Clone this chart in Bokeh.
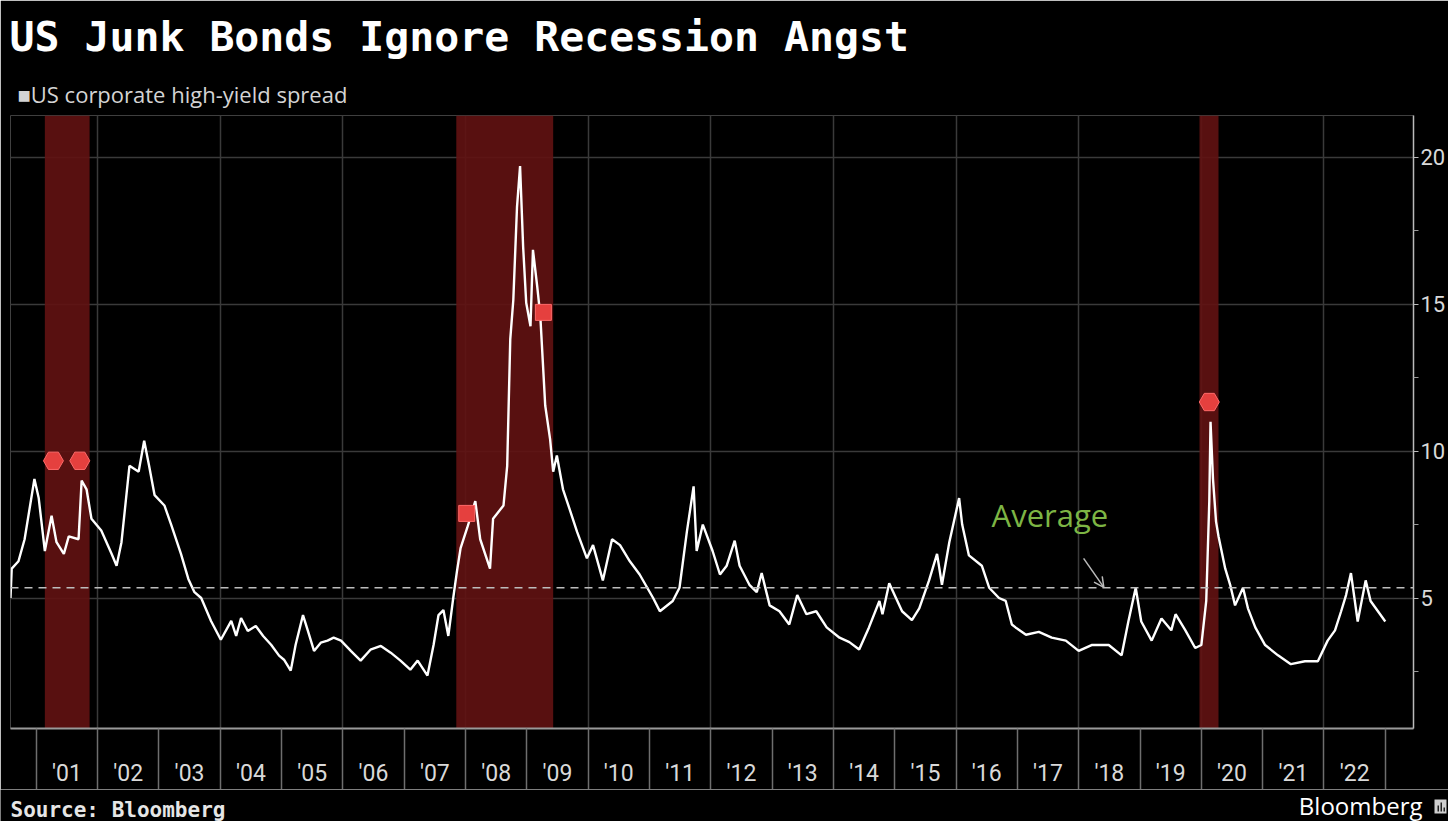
from bokeh.plotting import figure
from bokeh.layouts import column
from bokeh.models import FixedTicker, Span, Label, Arrow, OpenHead, Range1d, Title
from bokeh.core.properties import value
from bokeh.embed import file_html
from bokeh.resources import INLINE

TITLE = "US Junk Bonds Ignore Recession Angst"
SERIES_NAME = "US corporate high-yield spread"
SOURCE = "Source: Bloomberg"
BRAND = "Bloomberg"
AVG_TEXT = "Average"

# decimal year of each reading
years = [2000.58, 2000.60, 2000.71, 2000.81, 2000.97, 2001.04, 2001.14, 2001.25, 2001.33, 2001.45,
         2001.53, 2001.69, 2001.74, 2001.82, 2001.90, 2002.06, 2002.23, 2002.31, 2002.39, 2002.52,
         2002.67, 2002.76, 2002.84, 2002.93, 2003.09, 2003.20, 2003.36,
         2003.48, 2003.58, 2003.69, 2003.85, 2004.01, 2004.18, 2004.26, 2004.34, 2004.45, 2004.58,
         2004.70, 2004.83, 2004.96, 2005.04, 2005.15, 2005.23, 2005.35, 2005.43, 2005.53, 2005.64,
         2005.75, 2005.85, 2005.97, 2006.13, 2006.29, 2006.45, 2006.62, 2006.78, 2006.94, 2007.10,
         2007.22, 2007.38, 2007.48, 2007.56, 2007.64, 2007.72, 2007.80, 2007.86,
         2007.92, 2008.03, 2008.16, 2008.24,
         2008.40, 2008.45, 2008.62, 2008.68, 2008.73, 2008.78, 2008.84, 2008.89, 2008.94, 2008.99,
         2009.06, 2009.10, 2009.17, 2009.22, 2009.30, 2009.38, 2009.43, 2009.49, 2009.59, 2009.71,
         2009.82, 2009.98, 2010.08, 2010.24, 2010.39, 2010.52, 2010.68, 2010.84, 2011.06, 2011.17,
         2011.38, 2011.49, 2011.61, 2011.72, 2011.77, 2011.87, 2012.03, 2012.15, 2012.26, 2012.39,
         2012.47, 2012.63, 2012.75, 2012.83, 2012.96, 2013.12, 2013.28, 2013.41, 2013.56, 2013.72,
         2013.89, 2014.10, 2014.26, 2014.42, 2014.58, 2014.75, 2014.80, 2014.91, 2015.02, 2015.12,
         2015.28, 2015.40, 2015.56, 2015.69, 2015.77, 2015.89, 2016.05, 2016.10, 2016.21, 2016.42,
         2016.54, 2016.70, 2016.81, 2016.91, 2016.97, 2017.14, 2017.35, 2017.56, 2017.79, 2018.00,
         2018.21, 2018.49, 2018.70, 2018.81, 2018.93, 2019.02, 2019.19, 2019.35, 2019.51, 2019.58,
         2019.74, 2019.90, 2020.00, 2020.08, 2020.13, 2020.15, 2020.19, 2020.24, 2020.28, 2020.39,
         2020.47, 2020.55, 2020.68, 2020.76, 2020.88, 2021.04, 2021.25, 2021.46, 2021.69, 2021.90,
         2022.06, 2022.18, 2022.28, 2022.36, 2022.44, 2022.55, 2022.68, 2022.76, 2022.88, 2023.00]

# high-yield spread, percentage points
spread = [5.0, 6.0, 6.25, 7.0, 9.05, 8.4, 6.6, 7.8, 6.9, 6.5,
          7.1, 7.0, 9.0, 8.7, 7.7, 7.3, 6.5, 6.1, 6.9, 9.5,
          9.3, 10.35, 9.5, 8.5, 8.15, 7.5, 6.5,
          5.65, 5.2, 5.0, 4.22, 3.58, 4.22, 3.71, 4.32, 3.88, 4.05,
          3.71, 3.41, 3.04, 2.9, 2.53, 3.41, 4.42, 3.88, 3.2, 3.48,
          3.55, 3.65, 3.55, 3.2, 2.87, 3.24, 3.37, 3.14, 2.87, 2.56,
          2.87, 2.36, 3.41, 4.42, 4.59, 3.71, 5.0, 5.9,
          6.7, 7.4, 8.3, 7.0,
          6.0, 7.7, 8.15, 9.5, 13.8, 15.15, 18.3, 19.7, 16.95, 15.05,
          14.25, 16.85, 15.6, 14.6, 11.55, 10.4, 9.3, 9.85, 8.7, 7.95,
          7.25, 6.35, 6.8, 5.6, 7.0, 6.8, 6.25, 5.8, 5.0, 4.55,
          4.9, 5.35, 7.25, 8.8, 6.6, 7.5, 6.6, 5.8, 6.1, 6.95,
          6.1, 5.45, 5.2, 5.85, 4.75, 4.55, 4.1, 5.1, 4.45, 4.55,
          4.0, 3.65, 3.5, 3.25, 4.0, 4.9, 4.45, 5.5, 5.0, 4.55,
          4.25, 4.65, 5.6, 6.5, 5.45, 6.9, 8.4, 7.5, 6.45, 6.1,
          5.35, 5.0, 4.9, 4.1, 4.0, 3.75, 3.85, 3.65, 3.55, 3.2,
          3.4, 3.4, 3.05, 4.2, 5.35, 4.2, 3.55, 4.3, 3.9, 4.45,
          3.9, 3.3, 3.4, 4.9, 8.3, 11.0, 9.05, 7.6, 7.1, 6.0,
          5.45, 4.75, 5.35, 4.65, 4.0, 3.4, 3.05, 2.75, 2.85, 2.85,
          3.55, 3.9, 4.55, 5.1, 5.85, 4.2, 5.6, 4.9, 4.55, 4.2]

average_spread = 5.35

year_bounds = list(range(2001, 2024))
year_label_pos = [y + 0.5 for y in range(2001, 2023)]
year_labels = ["'01", "'02", "'03", "'04", "'05", "'06", "'07", "'08", "'09", "'10", "'11",
               "'12", "'13", "'14", "'15", "'16", "'17", "'18", "'19", "'20", "'21", "'22"]
grid_years = list(range(2002, 2023, 2))
y_ticks = [5, 10, 15, 20]
y_minor_ticks = [2.5, 7.5, 12.5, 17.5]

recession_start = [2001.14, 2007.85, 2019.97]
recession_end = [2001.87, 2009.43, 2020.28]

hex_event_x = [2001.28, 2001.71, 2020.13]
hex_event_y = [9.67, 9.67, 11.67]
sq_event_x = [2008.02, 2009.27]
sq_event_y = [7.88, 14.72]

avg_label_x, avg_label_y = 2016.58, 7.12
arrow_x0, arrow_y0, arrow_x1, arrow_y1 = 2018.08, 6.35, 2018.41, 5.36

X0, X1 = 2000.58, 2023.46
Y0, Y1 = 0.56, 21.42
TICK_FONT = "Roboto"
W, H_MAIN, H_FOOT = 1448, 789, 32

p = figure(width=W, height=H_MAIN, x_range=Range1d(X0, X1), y_range=Range1d(Y0, Y1),
           y_axis_location="right", output_backend="svg", toolbar_location=None,
           background_fill_color="black", border_fill_color="black", outline_line_color=None,
           min_border_left=10, min_border_right=32, min_border_top=115, min_border_bottom=58)
p.frame_align = False

# header: p.title is outermost, added titles sit nearer the frame
p.title.text = TITLE
p.title.text_font = "DejaVu Sans Mono"
p.title.text_font_style = "bold"
p.title.text_font_size = "41.5px"
p.title.text_color = "white"
p.title.align = "left"
p.title.offset = -1
p.title.standoff = 19

p.add_layout(Title(text="\u25a0" + SERIES_NAME, text_font="Open Sans", text_font_style="normal",
                   text_font_size="22px", text_color="#d4d4d4", align="left",
                   offset=7, standoff=13), "above")

# recession shading
p.quad(left=recession_start, right=recession_end, bottom=Y0, top=Y1,
       fill_color="#621212", fill_alpha=0.9, line_color=None)

# grid
p.xgrid.ticker = FixedTicker(ticks=grid_years)
p.xgrid.grid_line_color = "#3a3a3a"
p.xgrid.grid_line_width = 1.5
p.ygrid.grid_line_color = "#3a3a3a"
p.ygrid.grid_line_width = 1.5

# x axis
xa = p.xaxis[0]
xa.ticker = FixedTicker(ticks=year_label_pos, minor_ticks=year_bounds)
xa.major_label_overrides = {k: v for k, v in zip(year_label_pos, year_labels)}
xa.major_tick_out = 0
xa.major_tick_in = 0
xa.minor_tick_in = 0
xa.minor_tick_out = 62
xa.minor_tick_line_color = "#6e6e6e"
xa.minor_tick_line_width = 1.5
xa.axis_line_color = "#9a9a9a"
xa.axis_line_width = 2
xa.major_label_standoff = -31
xa.major_label_text_color = "#d9d9d9"
xa.major_label_text_font = TICK_FONT
xa.major_label_text_font_size = "23px"

# y axis (right)
ya = p.yaxis[0]
ya.ticker = FixedTicker(ticks=y_ticks, minor_ticks=y_minor_ticks)
ya.major_tick_in = 0
ya.major_tick_out = 5
ya.minor_tick_in = 0
ya.minor_tick_out = 5
ya.major_tick_line_color = "#bbbbbb"
ya.minor_tick_line_color = "#999999"
ya.axis_line_color = "#bbbbbb"
ya.axis_line_width = 1.5
ya.major_label_standoff = 2
ya.major_label_text_color = "#d9d9d9"
ya.major_label_text_font = TICK_FONT
ya.major_label_text_font_size = "22px"

# average
p.add_layout(Span(location=average_spread, dimension="width", line_color="#bdbdbd",
                  line_width=1.5, line_dash="8 6"))

# series
p.line(years, spread, line_color="white", line_width=2.4)

# event markers
p.scatter(hex_event_x, hex_event_y, marker="hex", size=20, fill_color="#e5403e",
          line_color="#ff6a6a", line_width=1)
p.scatter(sq_event_x, sq_event_y, marker="square", size=16, fill_color="#e5403e",
          line_color="#ff6a6a", line_width=1)

# annotations
p.add_layout(Label(x=avg_label_x, y=avg_label_y, text=AVG_TEXT, text_font="Open Sans",
                   text_font_size="31px", text_color="#7db544"))
p.add_layout(Arrow(end=OpenHead(size=10, line_color="#bbbbbb", line_width=1.5),
                   x_start=arrow_x0, y_start=arrow_y0, x_end=arrow_x1, y_end=arrow_y1,
                   line_color="#bbbbbb", line_width=1.5))

# footer strip (pixel coordinates, y measured from its top)
foot = figure(width=W, height=H_FOOT, x_range=Range1d(0, W), y_range=Range1d(H_FOOT, 0),
              x_axis_type=None, y_axis_type=None, output_backend="svg", toolbar_location=None,
              background_fill_color="black", border_fill_color="black", outline_line_color=None,
              min_border=0)
foot.frame_align = False
foot.text(x=[10], y=[20], text=[SOURCE], text_font=value("DejaVu Sans Mono"),
          text_font_style="bold", text_font_size="21px", text_color="#e6e6e6",
          text_baseline="alphabetic")
foot.text(x=[1422], y=[16], text=[BRAND], text_font=value("Open Sans"),
          text_font_size="24px", text_color="white", text_align="right",
          text_baseline="alphabetic")
foot.quad(left=[1434], right=[1446], top=[10], bottom=[24], fill_color="#cfcfcf", line_color=None)
foot.quad(left=[1437, 1440, 1443], right=[1438.5, 1441.5, 1444.5], top=[16, 13, 18],
          bottom=[22, 22, 22], fill_color="#222222", line_color=None)

layout = column(p, foot, spacing=0)
open("out.html", "w").write(file_html(layout, INLINE))
